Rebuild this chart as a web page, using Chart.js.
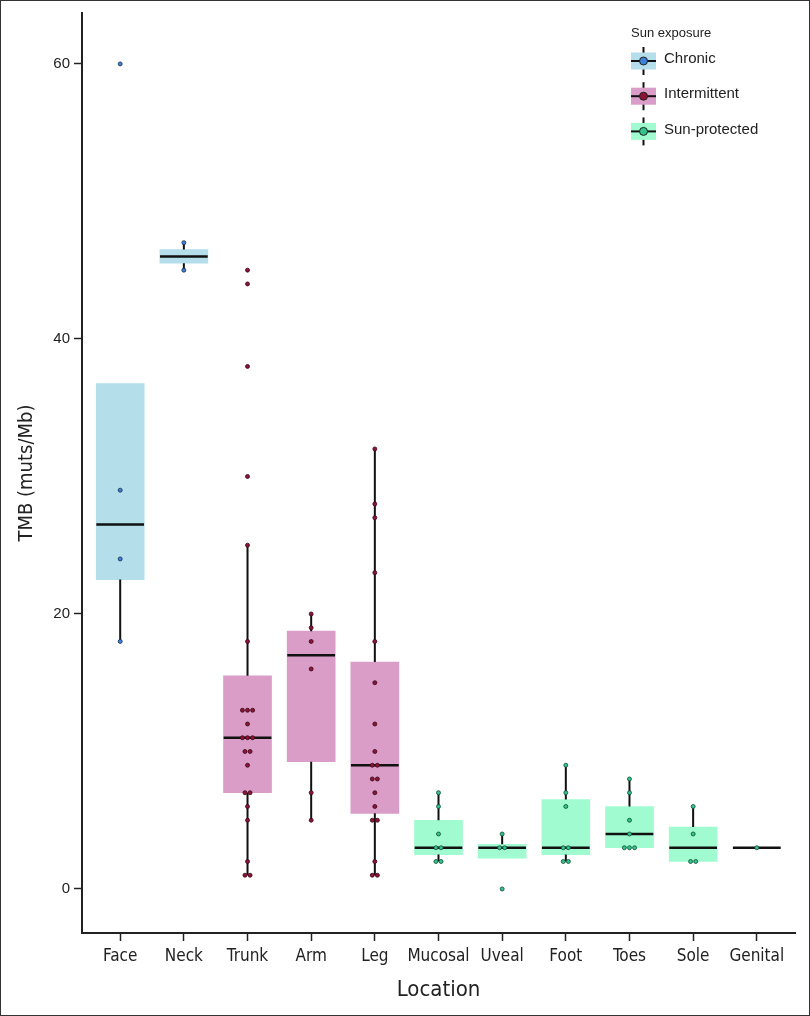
<!DOCTYPE html>
<html>
<head>
<meta charset="utf-8">
<script src="https://cdn.jsdelivr.net/npm/chart.js@4.4.1/dist/chart.umd.min.js"></script>
<style>
  html, body { margin: 0; padding: 0; background: #fff; }
  #wrap { width: 810px; height: 1016px; }
</style>
</head>
<body>
<div id="wrap"><canvas id="tmbChart" width="810" height="1016"></canvas></div>
<script>
// categories and groups
const categories = ["Face", "Neck", "Trunk", "Arm", "Leg", "Mucosal", "Uveal", "Foot", "Toes", "Sole", "Genital"];
const exposure = ["Chronic", "Chronic", "Intermittent", "Intermittent", "Intermittent",
  "Sun-protected", "Sun-protected", "Sun-protected", "Sun-protected", "Sun-protected", "Sun-protected"];
const groups = ["Chronic", "Intermittent", "Sun-protected"];

// box stats
const q1 = [22.5, 45.5, 7, 9.25, 5.5, 2.5, 2.25, 2.5, 3, 2, 3];
const median = [26.5, 46, 11, 17, 9, 3, 3, 3, 4, 3, 3];
const q3 = [36.75, 46.5, 15.5, 18.75, 16.5, 5, 3.25, 6.5, 6, 4.5, 3];
const whiskerLow = [18, 45, 1, 5, 1, 2, 2.25, 2, 3, 2, 3];
const whiskerHigh = [36.75, 47, 25, 20, 32, 7, 4, 9, 8, 6, 3];

// individual samples (muts/Mb)
const tmbFace = [60, 29, 24, 18];
const tmbNeck = [47, 45];
const tmbTrunk = [45, 44, 38, 30, 25, 18, 13, 13, 13, 12, 11, 11, 11, 10, 10, 9, 7, 7, 6, 5, 2, 1, 1];
const tmbArm = [20, 19, 18, 16, 7, 5];
const tmbLeg = [32, 28, 27, 23, 18, 15, 12, 10, 9, 9, 8, 8, 7, 6, 5, 5, 2, 1, 1];
const tmbMucosal = [7, 6, 4, 3, 3, 2, 2];
const tmbUveal = [4, 3, 3, 0];
const tmbFoot = [9, 7, 6, 3, 3, 2, 2];
const tmbToes = [8, 7, 5, 4, 3, 3, 3];
const tmbSole = [6, 4, 2, 2];
const tmbGenital = [3];
const samples = [tmbFace, tmbNeck, tmbTrunk, tmbArm, tmbLeg, tmbMucosal, tmbUveal, tmbFoot, tmbToes, tmbSole, tmbGenital];

const yTicks = [0, 20, 40, 60];

// styles
const boxFill = { "Chronic": "#b3deea", "Intermittent": "#d99dc8", "Sun-protected": "#a0fcd0" };
const dotFill = { "Chronic": "#3a82dc", "Intermittent": "#8e1436", "Sun-protected": "#33c48c" };
const dotEdge = { "Chronic": "#1b2c4a", "Intermittent": "#3a0816", "Sun-protected": "#0f4a33" };
const narrow = "'Liberation Sans Narrow', 'DejaVu Sans Condensed', 'Roboto Condensed', Arial, sans-serif";
const plain = "'Liberation Sans', Arial, sans-serif";
const halfBox = 0.375;
const dotStep = 0.08;

// whisker segments, broken with null between pieces
const whiskerPts = [];
categories.forEach((c, i) => {
  const x = i + 1;
  whiskerPts.push({ x: x, y: whiskerLow[i] }, { x: x, y: q1[i] }, { x: x, y: null });
  whiskerPts.push({ x: x, y: q3[i] }, { x: x, y: whiskerHigh[i] }, { x: x, y: null });
});

const medianPts = [];
categories.forEach((c, i) => {
  const x = i + 1;
  medianPts.push({ x: x - halfBox, y: median[i] }, { x: x + halfBox, y: median[i] }, { x: x, y: null });
});

// dots: tied values are spread side by side around the category centre
function dotsFor(group) {
  const out = [];
  samples.forEach((vals, i) => {
    if (exposure[i] !== group) return;
    const counts = {};
    vals.forEach((v) => { counts[v] = (counts[v] || 0) + 1; });
    const seen = {};
    vals.forEach((v) => {
      const k = counts[v];
      const j = seen[v] || 0;
      seen[v] = j + 1;
      out.push({ x: i + 1 + (j - (k - 1) / 2) * dotStep, y: v });
    });
  });
  return out;
}

const sunLegend = {
  id: "sunLegend",
  afterDraw(chart) {
    const ctx = chart.ctx;
    ctx.save();
    ctx.fillStyle = "#222";
    ctx.font = "13px " + plain;
    ctx.textBaseline = "middle";
    ctx.fillText("Sun exposure", 631, 33);
    groups.forEach((g, i) => {
      const cy = 61 + i * 35.2;
      const x0 = 631, w = 25;
      ctx.strokeStyle = "#111";
      ctx.lineWidth = 2;
      ctx.beginPath();
      ctx.moveTo(x0 + w / 2, cy - 14);
      ctx.lineTo(x0 + w / 2, cy + 14);
      ctx.stroke();
      ctx.fillStyle = boxFill[g];
      ctx.fillRect(x0, cy - 8.5, w, 17);
      ctx.beginPath();
      ctx.moveTo(x0, cy);
      ctx.lineTo(x0 + w, cy);
      ctx.stroke();
      ctx.beginPath();
      ctx.arc(x0 + w / 2, cy, 4, 0, Math.PI * 2);
      ctx.fillStyle = dotFill[g];
      ctx.fill();
      ctx.lineWidth = 1;
      ctx.strokeStyle = "#222";
      ctx.stroke();
      ctx.fillStyle = "#222";
      ctx.font = "15px " + plain;
      ctx.fillText(g, 664, cy - 2);
    });
    // frame around the figure
    ctx.strokeStyle = "#333";
    ctx.lineWidth = 1;
    ctx.strokeRect(0.5, 0.5, chart.width - 1, chart.height - 1);
    ctx.restore();
  }
};

const ctx = document.getElementById("tmbChart").getContext("2d");
new Chart(ctx, {
  type: "scatter",
  data: {
    datasets: [
      ...groups.map((g) => ({
        type: "scatter",
        label: g,
        data: dotsFor(g),
        pointRadius: 2,
        pointBorderWidth: 0.8,
        pointBackgroundColor: dotFill[g],
        pointBorderColor: dotEdge[g],
        order: 1
      })),
      {
        type: "line",
        label: "median",
        data: medianPts,
        borderColor: "#111",
        borderWidth: 2.5,
        pointRadius: 0,
        spanGaps: false,
        fill: false,
        order: 2
      },
      {
        type: "line",
        label: "whiskers",
        data: whiskerPts,
        borderColor: "#111",
        borderWidth: 2,
        pointRadius: 0,
        spanGaps: false,
        fill: false,
        order: 3
      },
      {
        type: "bar",
        label: "box",
        data: categories.map((c, i) => ({ x: i + 1, y: [q1[i], q3[i]] })),
        backgroundColor: categories.map((c, i) => boxFill[exposure[i]]),
        borderWidth: 0,
        barThickness: 48,
        order: 4
      }
    ]
  },
  options: {
    responsive: false,
    devicePixelRatio: 1,
    animation: false,
    layout: { padding: { top: 8, right: 15, left: 0, bottom: 0 } },
    plugins: {
      legend: { display: false },
      tooltip: { enabled: false }
    },
    scales: {
      x: {
        type: "linear",
        min: 0.4,
        max: 11.6,
        offset: false,
        afterBuildTicks: (s) => { s.ticks = categories.map((c, i) => ({ value: i + 1 })); },
        afterFit: (s) => { s.height = 83; },
        ticks: {
          callback: (v) => categories[v - 1] || "",
          autoSkip: false,
          maxRotation: 0,
          padding: 5,
          color: "#222",
          font: { family: narrow, size: 17 }
        },
        grid: { drawOnChartArea: false, offset: false, tickLength: 8, tickColor: "#222", tickWidth: 1.5 },
        border: { color: "#222", width: 2 },
        title: {
          display: true,
          text: "Location",
          color: "#222",
          font: { family: narrow, size: 22 },
          padding: { top: 0, bottom: 13 }
        }
      },
      y: {
        min: -3.2,
        max: 63.7,
        afterBuildTicks: (s) => { s.ticks = yTicks.map((v) => ({ value: v })); },
        afterFit: (s) => { s.width = 82; },
        ticks: { padding: 4, color: "#222", font: { family: plain, size: 15 } },
        grid: { drawOnChartArea: false, tickLength: 8, tickColor: "#222", tickWidth: 1.5 },
        border: { color: "#222", width: 2 },
        title: {
          display: true,
          text: "TMB (muts/Mb)",
          color: "#222",
          font: { family: narrow, size: 20 },
          padding: { top: 15, bottom: 0 }
        }
      }
    }
  },
  plugins: [sunLegend]
});
</script>
</body>
</html>
